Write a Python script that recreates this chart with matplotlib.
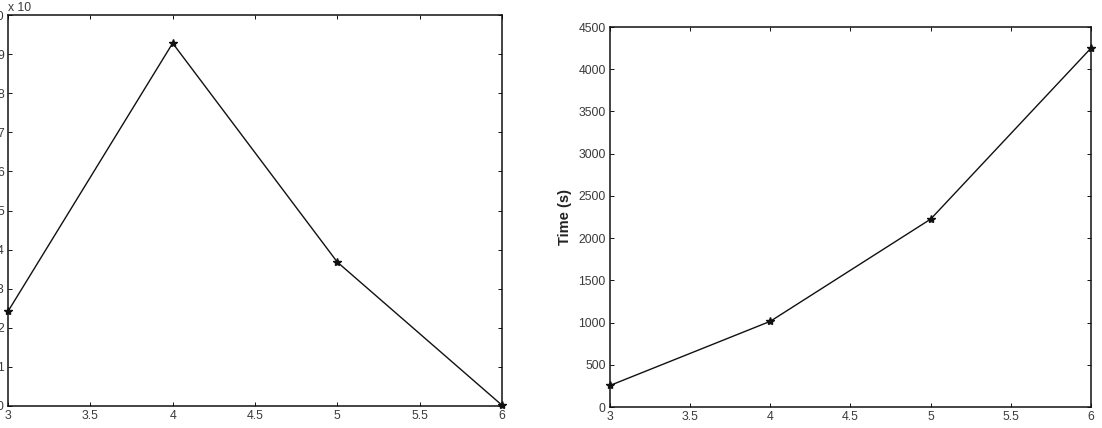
import matplotlib
matplotlib.use('Agg')
import matplotlib.pyplot as plt

plt.rcParams['font.family'] = ['Liberation Sans', 'DejaVu Sans']

# data
x_vals = [3, 4, 5, 6]
left_vals = [2.42, 9.28, 3.68, 0.02]      # scaled, shown as "x 10^..."
time_vals = [255, 1015, 2225, 4250]       # Time (s)

left_yticks = list(range(0, 11))
x_ticks = [3, 3.5, 4, 4.5, 5, 5.5, 6]
x_ticklabels = ['3', '3.5', '4', '4.5', '5', '5.5', '6']
right_yticks = list(range(0, 4501, 500))

W, H = 1102, 428
TXT = '#3a3a3a'
fig = plt.figure(figsize=(W / 100, H / 100), dpi=100)

def style(ax):
    ax.tick_params(direction='in', length=3, width=0.7, top=True, right=True,
                   labelsize=8.8, pad=3, colors='#111', labelcolor=TXT)
    for s in ax.spines.values():
        s.set_linewidth(1.1)
        s.set_color('#111')

# left panel (cut off on the left side like the original)
ax1 = fig.add_axes([8 / W, 1 - 406 / H, (502 - 8) / W, (406 - 15) / H])
ax1.plot(x_vals, left_vals, color='#111', lw=1.0, marker='*', ms=6,
         mfc='#111', mec='#111', clip_on=False)
ax1.set_xlim(3, 6)
ax1.set_ylim(0, 10)
ax1.set_xticks(x_ticks)
ax1.set_xticklabels(x_ticklabels)
ax1.set_yticks(left_yticks)
style(ax1)
ax1.text(0.0, 1.003, 'x 10', transform=ax1.transAxes, fontsize=8.8,
         ha='left', va='bottom', color=TXT)

# right panel
ax2 = fig.add_axes([610 / W, 1 - 407 / H, (1091 - 610) / W, (407 - 27) / H])
ax2.plot(x_vals, time_vals, color='#111', lw=1.0, marker='*', ms=6,
         mfc='#111', mec='#111', clip_on=False)
ax2.set_xlim(3, 6)
ax2.set_ylim(0, 4500)
ax2.set_xticks(x_ticks)
ax2.set_xticklabels(x_ticklabels)
ax2.set_yticks(right_yticks)
ax2.set_ylabel('Time (s)', fontsize=10.5, fontweight='bold', labelpad=5,
               color='#222')
style(ax2)

fig.savefig('out.png', dpi=100, facecolor='white')
